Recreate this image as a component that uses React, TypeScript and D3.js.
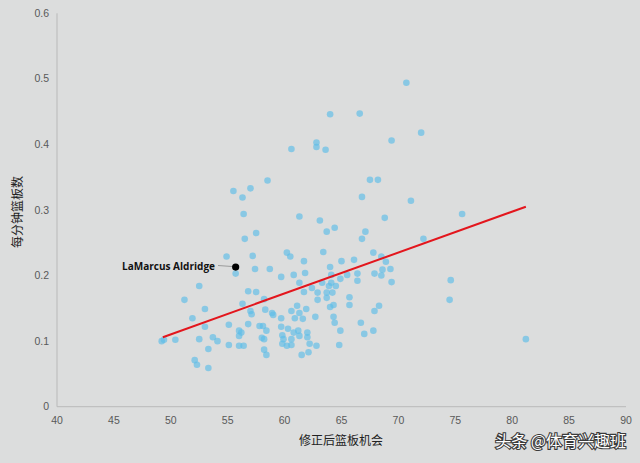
import React from "react";
import * as d3 from "d3";

const xTicks = [40, 45, 50, 55, 60, 65, 70, 75, 80, 85, 90];
const yTicks = [0, 0.1, 0.2, 0.3, 0.4, 0.5, 0.6];

const reboundChances = [
  70.7, 64.0, 66.6, 72.0, 69.4, 60.6, 62.8, 62.8, 63.6, 58.5, 55.5, 57.0, 56.3, 56.4, 61.3, 63.1, 57.5, 56.5,
  67.5, 68.2, 66.8, 71.1, 75.6, 68.8, 63.7, 64.4, 67.1, 66.8, 72.2, 74.6, 74.5, 81.2,
  54.9, 57.2, 60.2, 60.5, 61.7, 63.4, 67.8, 68.5, 66.1, 65.0, 68.9, 64.0, 69.3, 68.6, 57.4, 58.7, 55.7,
  59.7, 60.8, 61.8, 64.1, 65.5, 66.4, 67.9, 68.5, 64.9, 66.4, 69.4, 61.3, 63.3, 63.9, 64.1, 64.5, 52.5,
  56.8, 57.5, 61.7, 62.4, 62.9, 63.7, 64.2, 65.7, 62.9, 63.7, 51.2, 58.2,
  56.3, 53.0, 57.0, 57.1, 58.3, 58.9, 59.0, 61.1, 61.9, 60.6, 61.3, 64.3, 64.0, 65.7, 68.3, 67.9,
  51.9, 59.7, 60.9, 61.6, 62.7, 64.3, 55.1, 56.8, 53.0, 57.8, 58.1, 59.7, 60.3, 61.2, 60.8, 62.0, 59.8,
  56.0, 56.2, 56.0, 58.4, 64.4, 64.9, 66.7, 67.0, 67.8, 53.7, 54.1, 52.5, 49.2, 49.4, 50.4, 58.0, 58.2,
  59.9, 60.6, 61.3, 62.0, 55.1, 56.0, 56.4, 59.8, 60.2, 60.6, 62.2, 62.8, 64.8, 53.3, 58.2, 62.1, 58.4,
  61.5, 52.1, 52.3, 53.3,
];

const reboundsPerMin = [
  0.494, 0.446, 0.447, 0.418, 0.406, 0.393, 0.403, 0.396, 0.392, 0.345, 0.329, 0.333, 0.319, 0.294, 0.29, 0.284, 0.265, 0.256,
  0.346, 0.346, 0.32, 0.314, 0.294, 0.288, 0.267, 0.273, 0.267, 0.256, 0.256, 0.193, 0.163, 0.103,
  0.229, 0.23, 0.235, 0.229, 0.222, 0.236, 0.235, 0.229, 0.224, 0.222, 0.221, 0.213, 0.21, 0.209, 0.21, 0.21, 0.203,
  0.198, 0.201, 0.204, 0.201, 0.201, 0.203, 0.203, 0.2, 0.195, 0.192, 0.19, 0.189, 0.189, 0.184, 0.189, 0.184, 0.184,
  0.176, 0.175, 0.175, 0.181, 0.174, 0.174, 0.174, 0.167, 0.163, 0.166, 0.163, 0.164,
  0.157, 0.149, 0.146, 0.141, 0.148, 0.143, 0.14, 0.154, 0.149, 0.146, 0.143, 0.155, 0.152, 0.155, 0.154, 0.146,
  0.135, 0.135, 0.135, 0.134, 0.137, 0.137, 0.125, 0.126, 0.122, 0.123, 0.123, 0.122, 0.119, 0.116, 0.113, 0.113, 0.109,
  0.116, 0.113, 0.108, 0.116, 0.128, 0.116, 0.128, 0.111, 0.116, 0.106, 0.1, 0.103, 0.1, 0.102, 0.102, 0.105, 0.103,
  0.103, 0.103, 0.108, 0.106, 0.094, 0.093, 0.093, 0.096, 0.093, 0.094, 0.096, 0.093, 0.094, 0.088, 0.087, 0.083, 0.079,
  0.079, 0.071, 0.064, 0.059,
];

const highlightName = "LaMarcus Aldridge";
const highlightX = 55.7;
const highlightY = 0.213;

const trendX = [49.3, 81.2];
const trendY = [0.106, 0.305];

const xTitle = "修正后篮板机会";
const yTitle = "每分钟篮板数";
const watermark = "头条 @体育兴趣班";

export default function App() {
  const W = 640;
  const H = 463;
  const x = d3.scaleLinear().domain([40, 90]).range([57, 626]);
  const y = d3.scaleLinear().domain([0, 0.6]).range([406.7, 13.3]);
  const pts = reboundChances.map((v, i) => [v, reboundsPerMin[i]]);
  const line = d3
    .line<number>()
    .x((_, i) => x(trendX[i]))
    .y((_, i) => y(trendY[i]));
  const tickFont = "'Liberation Sans', Arial, sans-serif";
  const cjk = "'Noto Sans CJK SC', sans-serif";
  const hx = x(highlightX);
  const hy = y(highlightY);

  return (
    <div style={{ position: "absolute", left: 0, top: 0, width: W, height: H }}>
      <svg width={W} height={H} style={{ display: "block" }}>
        <rect x={0} y={0} width={W} height={H} fill="#dcdddd" />
        <line x1={x(40)} x2={x(40)} y1={y(0.6)} y2={y(0)} stroke="#b9b9b9" strokeWidth={1} />
        <line x1={x(40)} x2={x(90)} y1={y(0)} y2={y(0)} stroke="#b9b9b9" strokeWidth={1} />
        {xTicks.map((t) => (
          <text key={"x" + t} x={x(t)} y={424} textAnchor="middle" fontSize={10.5} fill="#595959" fontFamily={tickFont}>
            {t}
          </text>
        ))}
        {yTicks.map((t) => (
          <text key={"y" + t} x={49} y={y(t) + 3.5} textAnchor="end" fontSize={10.5} fill="#595959" fontFamily={tickFont}>
            {t === 0 ? "0" : t.toFixed(1)}
          </text>
        ))}
        {pts.map((p, i) => (
          <circle key={i} cx={x(p[0])} cy={y(p[1])} r={3.3} fill="#5cbde8" fillOpacity={0.65} />
        ))}
        <path d={line([0, 1]) || ""} stroke="#e3161d" strokeWidth={2} fill="none" />
        <line x1={218} y1={265.5} x2={hx - 3} y2={hy - 0.5} stroke="#8a8a8a" strokeWidth={0.8} />
        <circle cx={hx} cy={hy} r={3.6} fill="#000" />
        <text x={215} y={269.5} textAnchor="end" fontSize={10.5} fontWeight="bold" fill="#111" fontFamily="'Open Sans', sans-serif" textLength={93} lengthAdjust="spacingAndGlyphs">
          {highlightName}
        </text>
        <text x={341} y={445} textAnchor="middle" fontSize={12} fill="#222" fontFamily={cjk}>
          {xTitle}
        </text>
        <text transform="translate(22,212) rotate(-90)" textAnchor="middle" fontSize={12} fill="#222" fontFamily={cjk}>
          {yTitle}
        </text>
        <text x={626} y={447} textAnchor="end" fontSize={16} fill="#ffffff" stroke="#3a3a3a" strokeWidth={2.2} paintOrder="stroke" fontFamily={cjk}>
          {watermark}
        </text>
      </svg>
    </div>
  );
}
